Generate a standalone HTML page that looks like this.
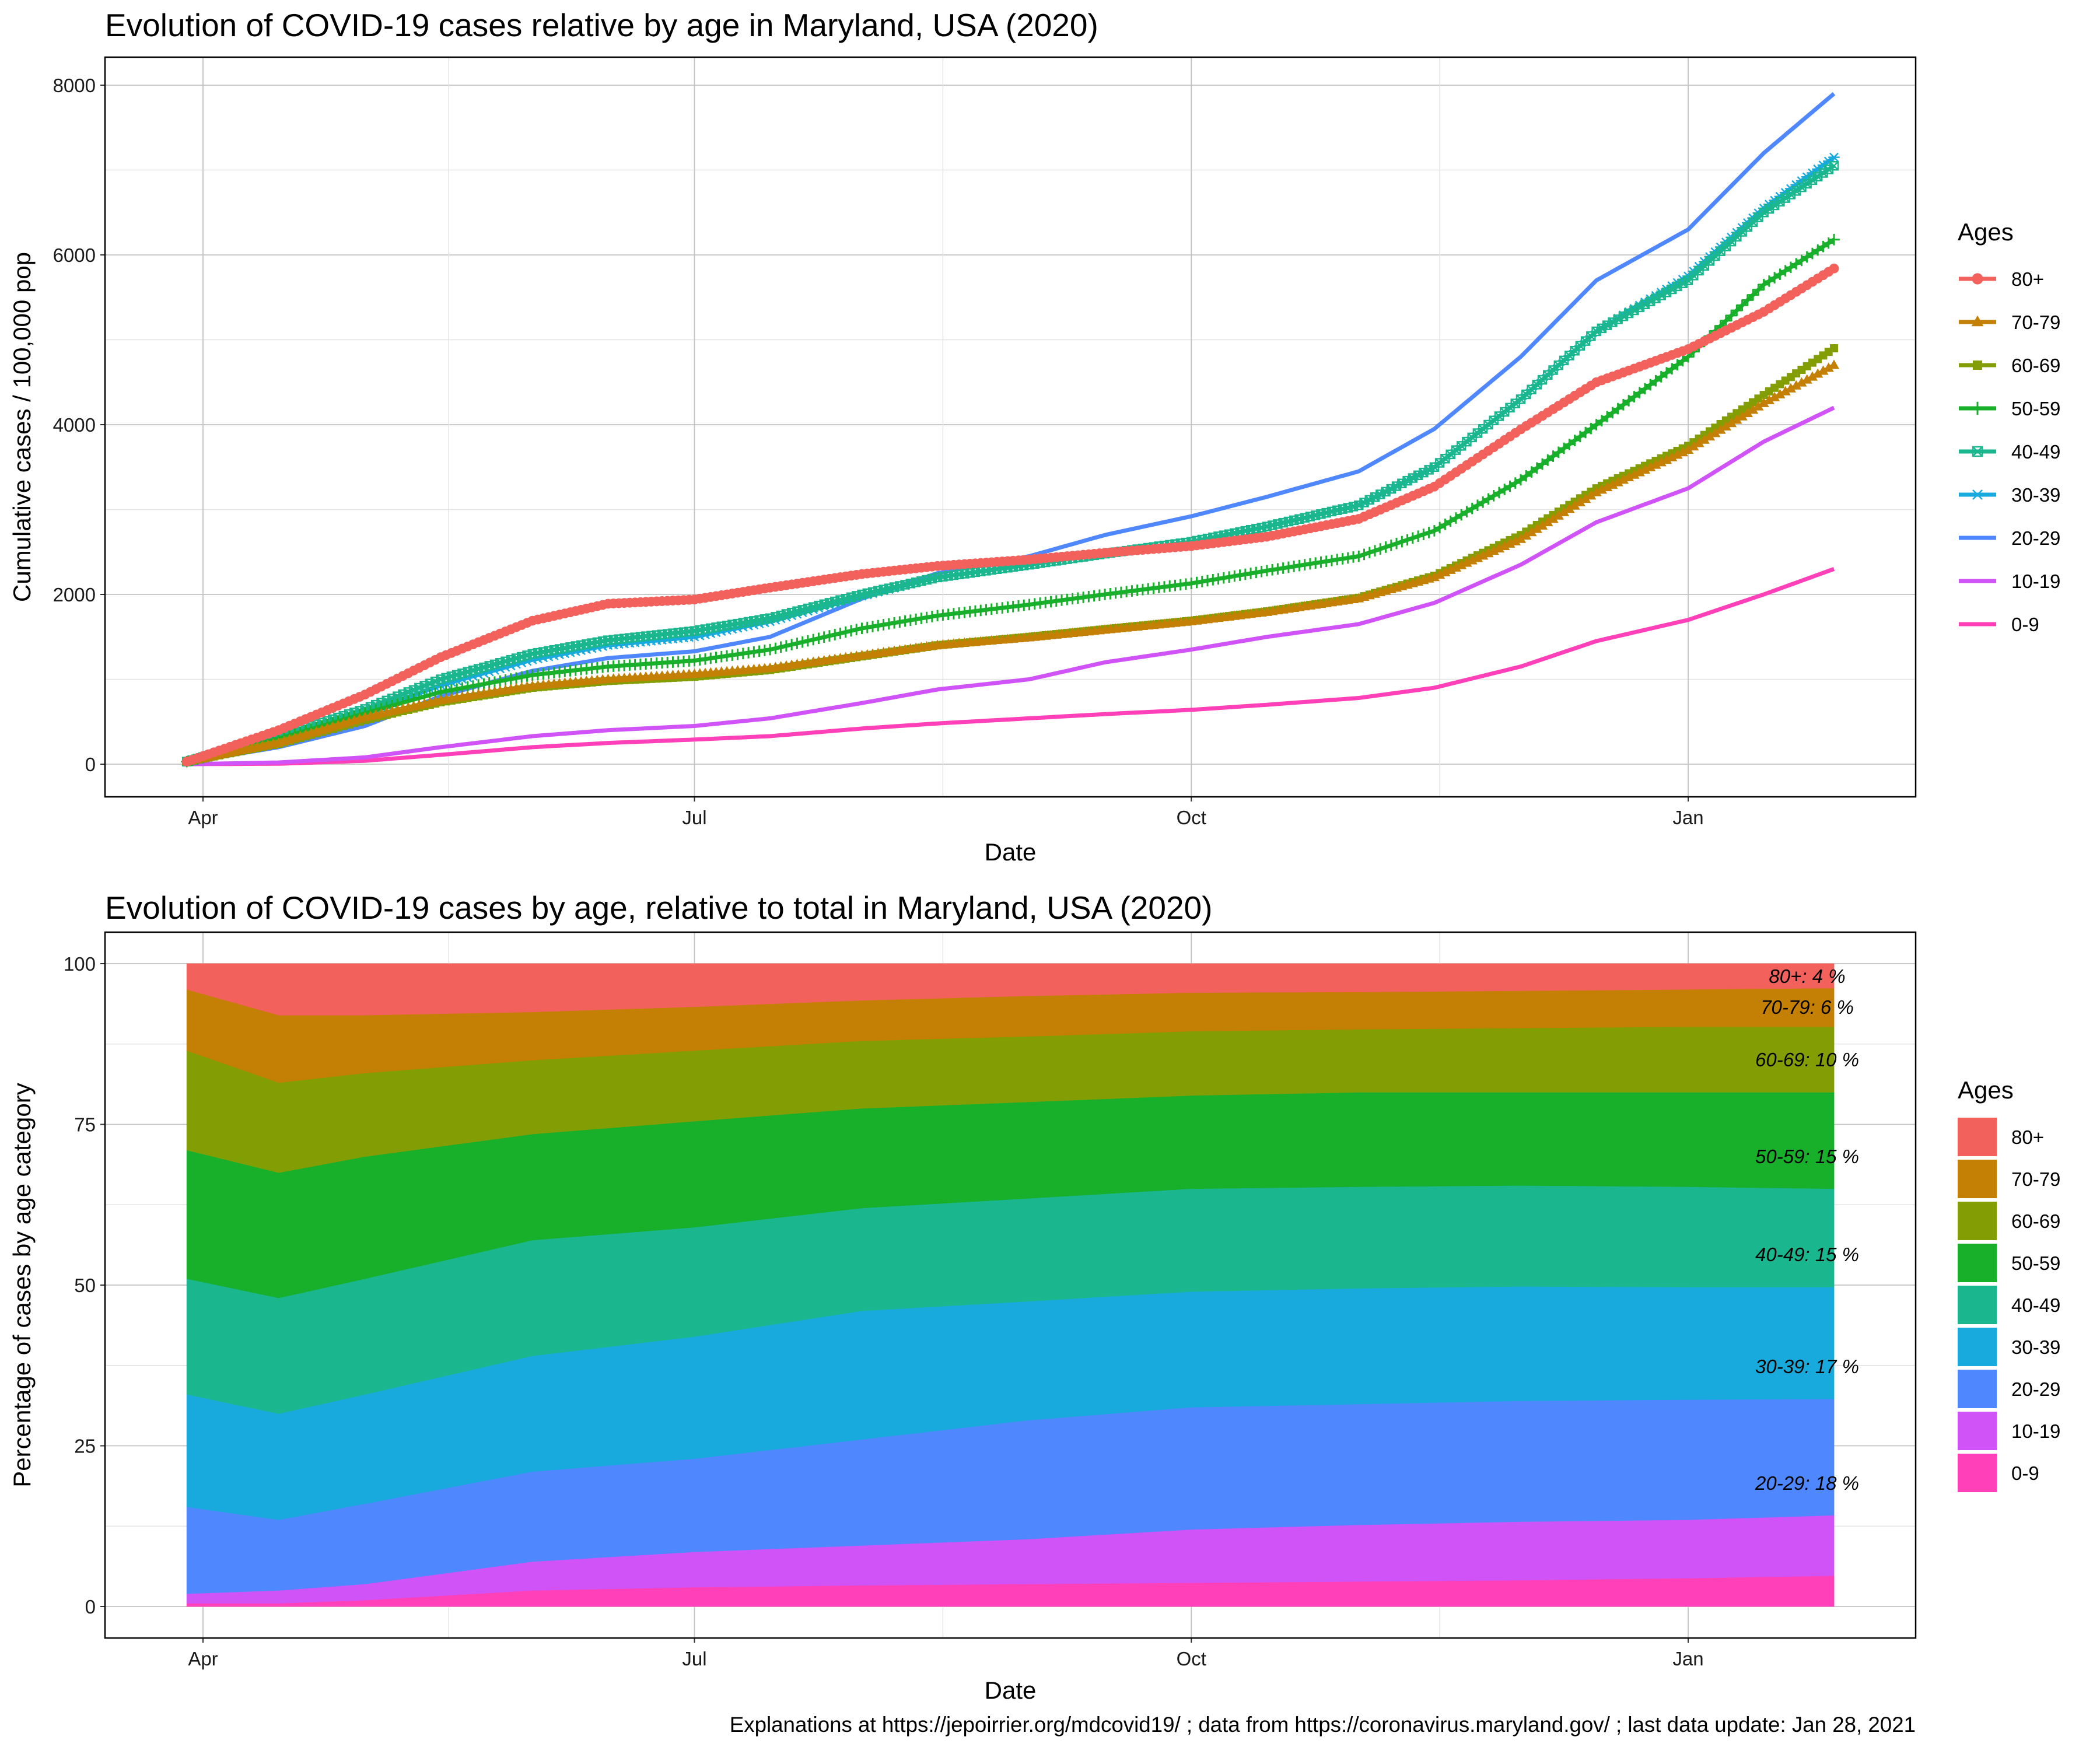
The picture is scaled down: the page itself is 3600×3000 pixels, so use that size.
<!DOCTYPE html>
<html><head><meta charset="utf-8">
<style>
html,body{margin:0;padding:0;background:#fff;}
svg{display:block;font-family:"Liberation Sans",Arial,sans-serif;}
</style></head>
<body>
<svg id="chart" width="3600" height="3000" viewBox="0 0 3600 3000" xmlns="http://www.w3.org/2000/svg">
<rect width="3600" height="3000" fill="#fff"/>
<text x="180" y="62" font-size="55">Evolution of COVID-19 cases relative by age in Maryland, USA (2020)</text>
<text x="180" y="1575" font-size="55">Evolution of COVID-19 cases by age, relative to total in Maryland, USA (2020)</text>
<g id="top"></g>
<g id="bottom"></g>
<text x="3284" y="2969" font-size="36.7" text-anchor="end">Explanations at https://jepoirrier.org/mdcovid19/ ; data from https://coronavirus.maryland.gov/ ; last data update: Jan 28, 2021</text>
</svg>
<script>
// ---- data: top chart (cumulative cases / 100,000) ----
const ages = ["80+","70-79","60-69","50-59","40-49","30-39","20-29","10-19","0-9"];
const colors = ["#F2615B","#C47F05","#839E05","#18AF2B","#1AB78F","#18AADC","#4F87FF","#D053F7","#FF40B8"];
const shapes = ["circle","triangle","square","plus","squarex","asterisk","none","none","none"];
const topDays = [-3,14,30,44,61,75,91,105,122,136,153,167,183,197,214,228,244,258,275,289,302];
const s80 = [30,400,820,1260,1690,1890,1940,2080,2240,2335,2410,2490,2570,2680,2890,3270,3945,4500,4890,5330,5840];
const s70 = [30,250,550,750,920,1000,1060,1130,1280,1400,1490,1580,1680,1790,1950,2200,2650,3200,3700,4250,4700];
const s60 = [30,240,520,730,900,980,1030,1110,1270,1400,1500,1590,1690,1800,1960,2220,2700,3250,3750,4350,4900];
const s50 = [30,300,600,850,1050,1150,1220,1350,1600,1750,1880,2000,2130,2280,2450,2750,3350,4000,4800,5650,6180];
const s40 = [30,330,650,1000,1300,1460,1570,1720,2000,2200,2350,2480,2620,2800,3050,3500,4300,5100,5700,6500,7050];
const s30 = [30,300,600,930,1230,1400,1500,1680,1980,2200,2350,2480,2620,2800,3050,3500,4300,5100,5750,6550,7150];
const s20 = [20,200,450,800,1100,1250,1330,1500,1950,2250,2450,2700,2920,3150,3450,3950,4800,5700,6300,7200,7900];
const s10 = [0,20,80,200,330,400,450,540,720,880,1000,1200,1350,1500,1650,1900,2350,2850,3250,3800,4200];
const s0 = [0,5,40,110,200,250,290,330,420,480,540,590,640,700,780,900,1150,1450,1700,2000,2300];
const topSeries = [s80,s70,s60,s50,s40,s30,s20,s10,s0];
const topYTicks = [0,2000,4000,6000,8000];
const xTickDays = [0,91,183,275];
const xTickLabels = ["Apr","Jul","Oct","Jan"];
// ---- data: bottom chart (share of cases, %) ----
const botDays = [-3,14,30,61,91,122,153,183,214,244,275,302];
const p80 = [4,8,8,7.5,6.7,5.7,5,4.5,4.4,4.2,4,3.8];
const p70 = [9.5,10.5,9,7.5,6.8,6.3,6.3,6,5.8,5.8,5.8,6];
const p60 = [15.5,14,13,11.5,11,10.5,10.2,10,9.8,10,10.2,10.2];
const p50 = [20,19.5,19,16.5,16.5,15.5,15,14.5,14.7,14.5,14.7,15];
const p40 = [18,18,18,18,17,16,16,16,15.8,15.7,15.6,15.3];
const p30 = [17.5,16.5,17,18,19,20,18.5,18,18,17.8,17.5,17.4];
const p20 = [13.5,11,12.5,14,14.5,16.5,18.5,19,18.8,18.8,18.7,18.1];
const p10 = [1.5,2,2.5,4.5,5.5,6.2,7,8.3,8.8,9.1,9.1,9.4];
const p0 = [0.5,0.5,1,2.5,3,3.3,3.5,3.7,3.9,4.1,4.4,4.8];
const botSeries = [p80,p70,p60,p50,p40,p30,p20,p10,p0];
const botYTicks = [0,25,50,75,100];
const finalLabels = ["80+: 4 %","70-79: 6 %","60-69: 10 %","50-59: 15 %","40-49: 15 %","30-39: 17 %","20-29: 18 %"];
const finalLabelY = [1674,1727,1817,1983,2151,2343,2543];

const NS="http://www.w3.org/2000/svg";
function mk(tag,attrs,parent){const e=document.createElementNS(NS,tag);for(const k in attrs)e.setAttribute(k,attrs[k]);parent.appendChild(e);return e;}
const L=180,R=3284;
const xs=d=>348+d*(2546/275);
function interp(days,vals,d){for(let i=0;i<days.length-1;i++){if(d<=days[i+1]){const t=(d-days[i])/(days[i+1]-days[i]);return vals[i]+t*(vals[i+1]-vals[i]);}}return vals[vals.length-1];}

function frame(g,T,B,yTicks,ys,name){
  const gridMinor="#e3e3e3",gridMajor="#c2c2c2";
  for(let i=0;i<yTicks.length;i++){
    const y=ys(yTicks[i]);
    if(i<yTicks.length-1){const m=ys((yTicks[i]+yTicks[i+1])/2);const ln=mk('line',{x1:L,x2:R,y1:m,y2:m,stroke:gridMinor,'stroke-width':1.5},g);
      
      }
    const gl=mk('line',{x1:L,x2:R,y1:y,y2:y,stroke:gridMajor,'stroke-width':1.8},g);
    
    
    mk('line',{x1:L-8,x2:L,y1:y,y2:y,stroke:'#333','stroke-width':2},g);
    const t=mk('text',{x:L-16,y:y+12,'font-size':33,'text-anchor':'end',fill:'#1a1a1a'},g);t.textContent=yTicks[i];
    
    
  }
  const minorDays=[-45,45.5,137,229,320];
  minorDays.forEach(d=>{const x=xs(d);if(x>L&&x<R){const ln=mk('line',{x1:x,x2:x,y1:T,y2:B,stroke:gridMinor,'stroke-width':1.5},g);
    
    }});
  xTickDays.forEach((d,i)=>{const x=xs(d);
    const gl=mk('line',{x1:x,x2:x,y1:T,y2:B,stroke:gridMajor,'stroke-width':1.8},g);
    
    
    mk('line',{x1:x,x2:x,y1:B,y2:B+8,stroke:'#333','stroke-width':2},g);
    const t=mk('text',{x:x,y:B+47,'font-size':33,'text-anchor':'middle',fill:'#1a1a1a'},g);t.textContent=xTickLabels[i];
    
    
  });
}
function border(g,T,B){const r=mk('rect',{x:L,y:T,width:R-L,height:B-T,fill:'none',stroke:'#000','stroke-width':2.5},g);
  
  }

function marker(g,shape,x,y,c,s){
  if(shape==='circle'){mk('circle',{cx:x,cy:y,r:s*0.6,fill:c},g);}
  else if(shape==='triangle'){mk('polygon',{points:`${x},${y-s*0.7} ${x-s*0.65},${y+s*0.45} ${x+s*0.65},${y+s*0.45}`,fill:c},g);}
  else if(shape==='square'){mk('rect',{x:x-s*0.5,y:y-s*0.5,width:s,height:s,fill:c},g);}
  else if(shape==='plus'){mk('path',{d:`M${x-s*0.7},${y}H${x+s*0.7}M${x},${y-s*0.7}V${y+s*0.7}`,stroke:c,'stroke-width':3,fill:'none'},g);}
  else if(shape==='squarex'){mk('path',{d:`M${x-s*0.5},${y-s*0.5}h${s}v${s}h${-s}zM${x-s*0.5},${y-s*0.5}l${s},${s}M${x+s*0.5},${y-s*0.5}l${-s},${s}`,stroke:c,'stroke-width':2.5,fill:'none'},g);}
  else if(shape==='asterisk'){mk('path',{d:`M${x-s*0.7},${y}H${x+s*0.7}M${x-s*0.5},${y-s*0.5}L${x+s*0.5},${y+s*0.5}M${x+s*0.5},${y-s*0.5}L${x-s*0.5},${y+s*0.5}`,stroke:c,'stroke-width':2.5,fill:'none'},g);}
}

// ---- TOP ----
(function(){
  const g=document.getElementById('top');
  const T=98,B=1366;const ys=v=>1310-v*(291/2000);
  frame(g,T,B,topYTicks,ys,'top');
  for(let k=topSeries.length-1;k>=0;k--){
    const vals=topSeries[k];const sg=mk('g',{},g);
    
    
    const pts=[];for(let d=topDays[0];d<=topDays[topDays.length-1];d+=1){pts.push(xs(d).toFixed(1)+','+ys(interp(topDays,vals,d)).toFixed(1));}
    const pl=mk('polyline',{points:pts.join(' '),fill:'none',stroke:colors[k],'stroke-width':7,'stroke-linejoin':'round'},sg);
    
    
    if(shapes[k]!=='none'){for(let d=topDays[0];d<=topDays[topDays.length-1];d+=1){marker(sg,shapes[k],xs(d),ys(interp(topDays,vals,d)),colors[k],14);}}
  }
  border(g,T,B);
  const yt=mk('text',{x:0,y:0,'font-size':42,'text-anchor':'middle',transform:'translate(52,732) rotate(-90)'},g);yt.textContent='Cumulative cases / 100,000 pop';
  
  
  const xt=mk('text',{x:(L+R)/2,y:1475,'font-size':42,'text-anchor':'middle'},g);xt.textContent='Date';
  
  
  const lt=mk('text',{x:3356,y:412,'font-size':42},g);lt.textContent='Ages';
  
  
  ages.forEach((a,i)=>{const y=478+i*74;const eg=mk('g',{},g);
    
    
    mk('line',{x1:3358,x2:3422,y1:y,y2:y,stroke:colors[i],'stroke-width':7},eg);
    if(shapes[i]!=='none')marker(eg,shapes[i],3390,y,colors[i],16);
    const t=mk('text',{x:3448,y:y+12,'font-size':33},eg);t.textContent=a;});
})();

// ---- BOTTOM ----
(function(){
  const g=document.getElementById('bottom');
  const T=1598,B=2808;const ys=v=>2754-v*(275.5/25);
  frame(g,T,B,botYTicks,ys,'bottom');
  const n=botDays.length;const tot=[];for(let j=0;j<n;j++){let s=0;botSeries.forEach(a=>s+=a[j]);tot.push(s);}
  let lower=new Array(n).fill(0);
  for(let k=botSeries.length-1;k>=0;k--){
    const upper=lower.map((v,j)=>v+botSeries[k][j]/tot[j]*100);
    const top=[],bot=[];
    for(let j=0;j<n;j++)top.push(xs(botDays[j]).toFixed(1)+','+ys(upper[j]).toFixed(1));
    for(let j=n-1;j>=0;j--)bot.push(xs(botDays[j]).toFixed(1)+','+ys(lower[j]).toFixed(1));
    const p=mk('polygon',{points:top.concat(bot).join(' '),fill:colors[k],stroke:colors[k],'stroke-width':0.8},g);
    
    
    lower=upper;
  }
  finalLabels.forEach((s,i)=>{const t=mk('text',{x:3098,y:finalLabelY[i]+11,'font-size':33,'font-style':'italic','text-anchor':'middle'},g);t.textContent=s;
    
    });
  border(g,T,B);
  const yt=mk('text',{x:0,y:0,'font-size':42,'text-anchor':'middle',transform:'translate(52,2203) rotate(-90)'},g);yt.textContent='Percentage of cases by age category';
  
  
  const xt=mk('text',{x:(L+R)/2,y:2912,'font-size':42,'text-anchor':'middle'},g);xt.textContent='Date';
  
  
  const lt=mk('text',{x:3356,y:1883,'font-size':42},g);lt.textContent='Ages';
  
  
  ages.forEach((a,i)=>{const y=1916+i*72;const eg=mk('g',{},g);
    
    
    mk('rect',{x:3356,y:y,width:67,height:66,fill:colors[i]},eg);
    const t=mk('text',{x:3448,y:y+45,'font-size':33},eg);t.textContent=a;});
})();
</script>
</body></html>
